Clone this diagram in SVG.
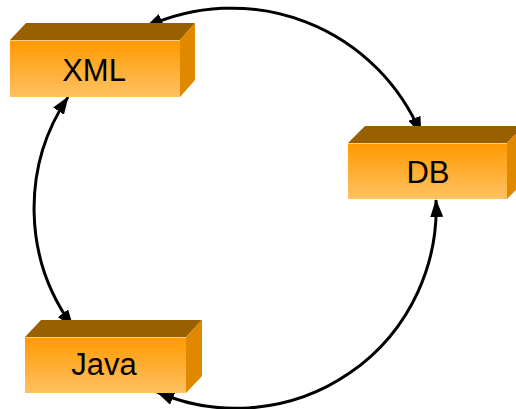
<svg xmlns="http://www.w3.org/2000/svg" width="516" height="409" viewBox="0 0 516 409">
<defs>
<linearGradient id="front" x1="0" y1="0" x2="0" y2="1">
<stop offset="0" stop-color="#FF9900"/>
<stop offset="1" stop-color="#FFC262"/>
</linearGradient>
<marker id="arr" viewBox="0 0 18 13" markerWidth="18" markerHeight="13" refX="17" refY="6.5" orient="auto-start-reverse" markerUnits="userSpaceOnUse">
<path d="M0,0 L18,6.5 L0,13 z" fill="#000"/>
</marker>
</defs>
<style>
.front{fill:url(#front);}
.top{fill:#996000;}
.side{fill:#E08800;}
.edge{stroke:#FFCF8A;stroke-width:1;fill:none;}
.lbl{font-family:"Liberation Sans",Arial,sans-serif;font-size:31px;fill:#000;text-anchor:middle;}
.conn{fill:none;stroke:#000;stroke-width:3;marker-start:url(#arr);marker-end:url(#arr);}
</style>
<g id="connectors">
<path class="conn" d="M146,27 A205,205 0 0 1 421,134"/>
<path class="conn" d="M68,97 A200,200 0 0 0 73,327"/>
<path class="conn" d="M157,392 A200,200 0 0 0 436,200"/>
</g>
<g id="xml">
<polygon class="top" points="10,40 26,23 195,23 180,40"/>
<polygon class="side" points="180,40 195,23 195,80 180,97"/>
<rect class="front" x="10" y="40" width="170" height="57"/>
<line class="edge" x1="10" y1="40.5" x2="180" y2="40.5"/>
<text class="lbl" x="94" y="81">XML</text>
</g>
<g id="db">
<polygon class="top" points="348,143 365,126 524,126 507,143"/>
<polygon class="side" points="507,143 524,126 524,182 507,199"/>
<rect class="front" x="348" y="143" width="159" height="56"/>
<line class="edge" x1="348" y1="143.5" x2="507" y2="143.5"/>
<text class="lbl" x="428" y="183">DB</text>
</g>
<g id="java">
<polygon class="top" points="25,337 41,320 202,320 186,337"/>
<polygon class="side" points="186,337 202,320 202,376 186,393"/>
<rect class="front" x="25" y="337" width="161" height="56"/>
<line class="edge" x1="25" y1="337.5" x2="186" y2="337.5"/>
<text class="lbl" x="104" y="375">Java</text>
</g>
</svg>
